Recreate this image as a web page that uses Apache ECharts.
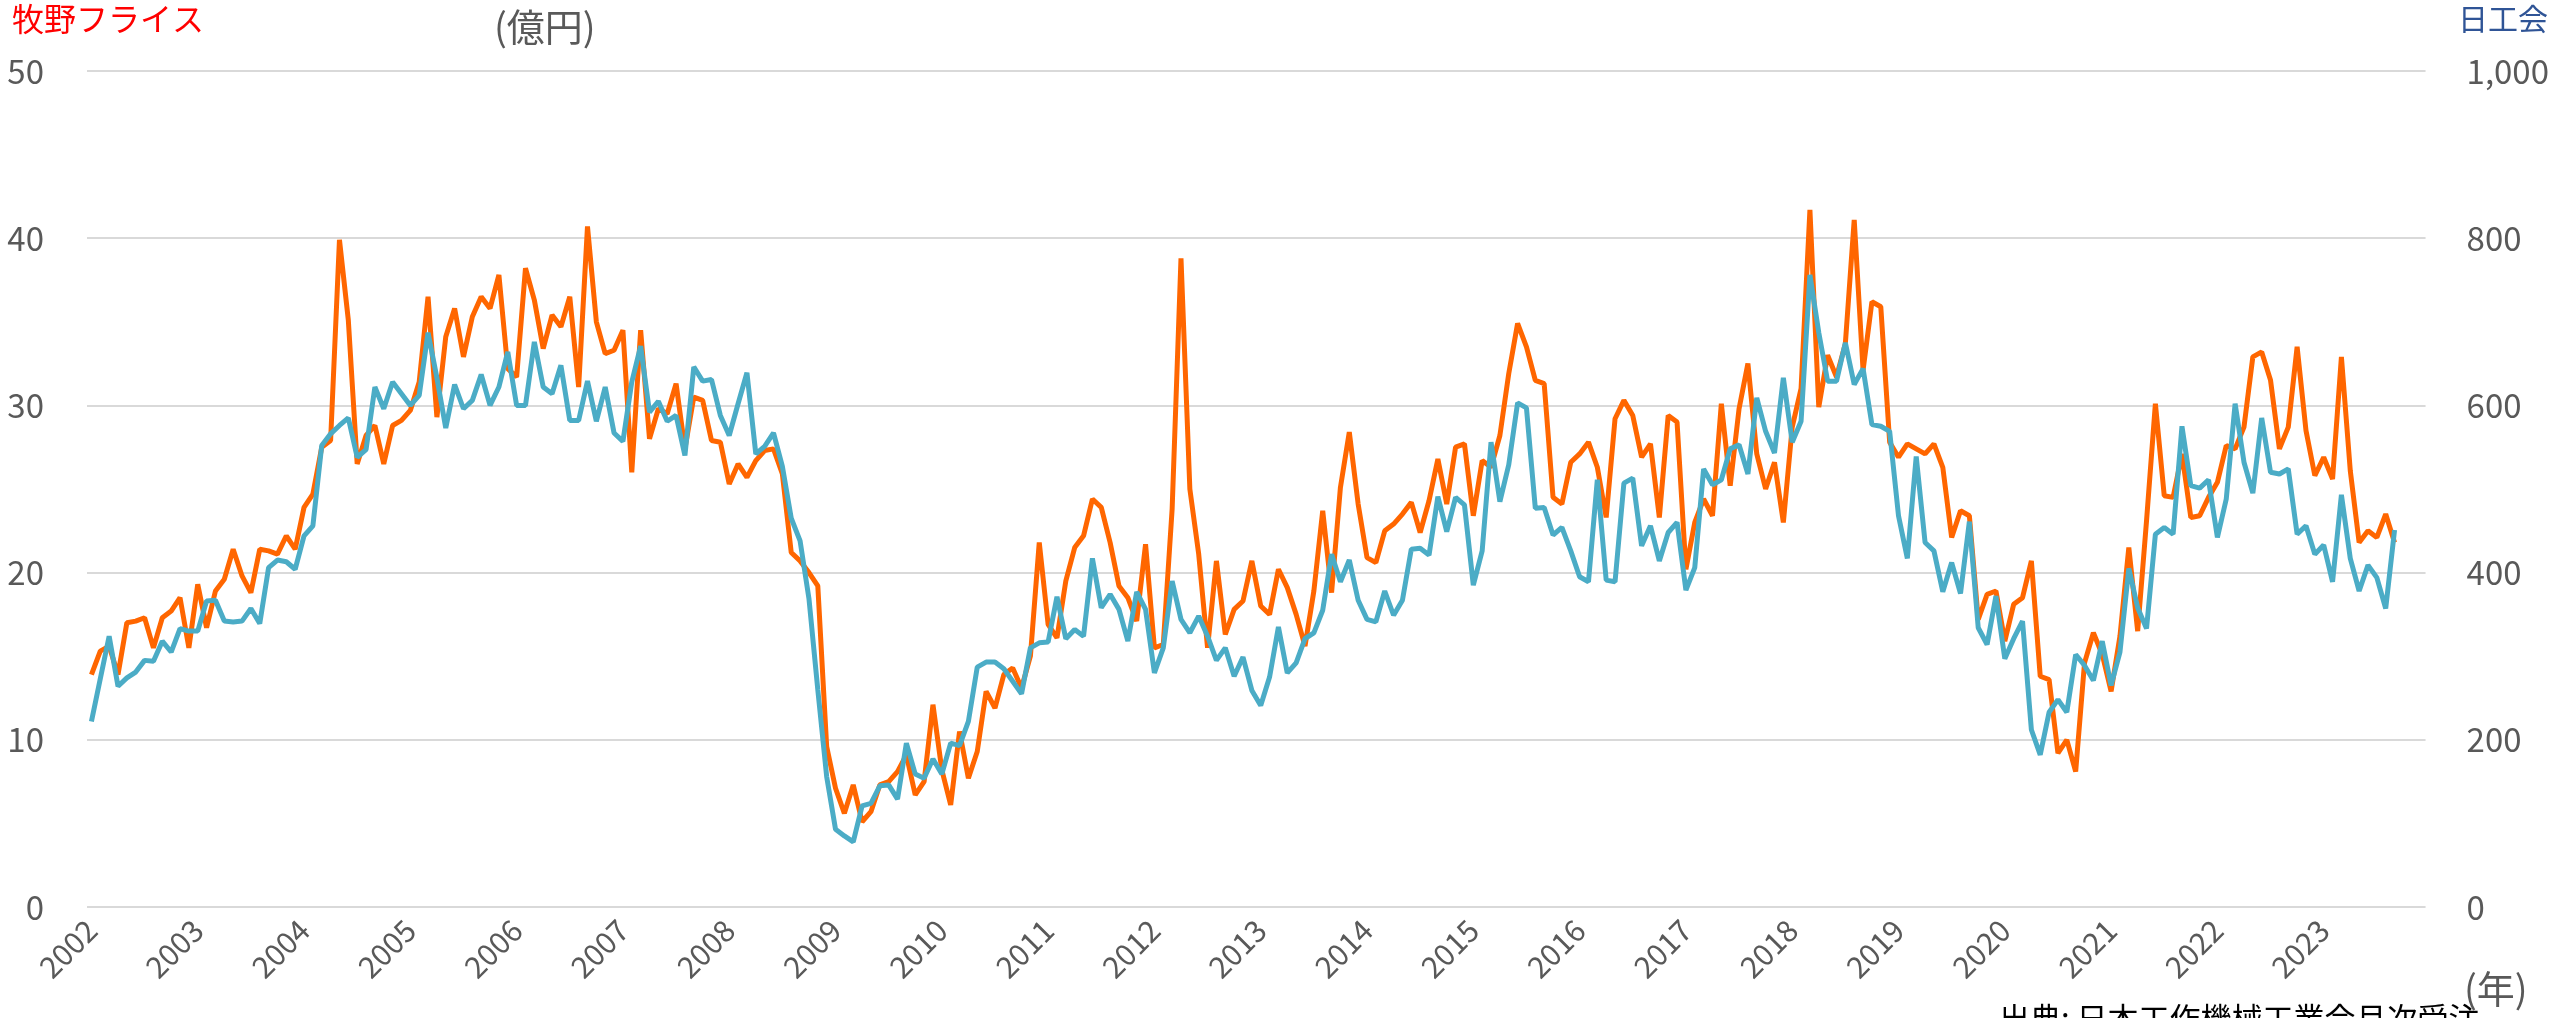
<!DOCTYPE html>
<html>
<head>
<meta charset="utf-8">
<title>牧野フライス / 日工会 受注</title>
<script src="https://cdn.jsdelivr.net/npm/echarts@6/dist/echarts.min.js"></script>
<style>
  html, body { margin: 0; padding: 0; background: #fff; }
  #chart { width: 2552px; height: 1018px; }
</style>
</head>
<body>
<div id="chart"></div>
<script>
// 年（x軸ラベル）
var years = [2002, 2003, 2004, 2005, 2006, 2007, 2008, 2009, 2010, 2011, 2012,
  2013, 2014, 2015, 2016, 2017, 2018, 2019, 2020, 2021, 2022, 2023];

// 牧野フライス 月次受注（億円）2002/1 - 2023/9
var makino = [
  13.9, 15.3, 15.6, 13.9, 17.0, 17.1, 17.3, 15.5, 17.3, 17.7, 18.5, 15.5,
  19.3, 16.7, 18.9, 19.6, 21.4, 19.8, 18.8, 21.4, 21.3, 21.1, 22.2, 21.4,
  23.9, 24.7, 27.5, 27.9, 39.9, 35.1, 26.5, 28.2, 28.8, 26.5, 28.8, 29.1,
  29.7, 31.4, 36.5, 29.3, 34.1, 35.8, 32.9, 35.3, 36.5, 35.8, 37.8, 32.2,
  31.7, 38.2, 36.3, 33.4, 35.4, 34.7, 36.5, 31.1, 40.7, 35.0, 33.1, 33.3,
  34.5, 26.0, 34.5, 28.0, 29.8, 29.5, 31.3, 27.4, 30.5, 30.3, 27.9, 27.8,
  25.3, 26.5, 25.7, 26.7, 27.3, 27.4, 25.9, 21.2, 20.7, 20.0, 19.2, 9.6,
  7.1, 5.6, 7.3, 5.1, 5.7, 7.3, 7.5, 8.1, 9.1, 6.7, 7.5, 12.1,
  8.2, 6.1, 10.5, 7.7, 9.3, 12.9, 11.9, 13.9, 14.3, 13.1, 15.0, 21.8,
  16.9, 16.1, 19.5, 21.5, 22.2, 24.4, 23.9, 21.8, 19.2, 18.5, 17.1, 21.7,
  15.5, 15.7, 23.8, 38.8, 25.0, 21.1, 15.5, 20.7, 16.3, 17.8, 18.3, 20.7,
  18.0, 17.5, 20.2, 19.1, 17.5, 15.6, 18.9, 23.7, 18.8, 25.1, 28.4, 24.1,
  20.9, 20.6, 22.5, 22.9, 23.5, 24.2, 22.4, 24.3, 26.8, 24.1, 27.5, 27.7,
  23.4, 26.7, 26.3, 28.2, 31.9, 34.9, 33.5, 31.5, 31.3, 24.5, 24.1, 26.6,
  27.1, 27.8, 26.3, 23.3, 29.2, 30.3, 29.4, 26.9, 27.7, 23.3, 29.4, 29.0,
  20.2, 23.0, 24.4, 23.4, 30.1, 25.2, 29.8, 32.5, 27.1, 25.0, 26.6, 23.0,
  28.7, 31.0, 41.7, 29.9, 33.0, 31.7, 33.7, 41.1, 32.1, 36.2, 35.9, 27.8,
  26.9, 27.7, 27.4, 27.1, 27.7, 26.3, 22.1, 23.7, 23.4, 17.2, 18.7, 18.9,
  15.9, 18.1, 18.5, 20.7, 13.8, 13.6, 9.2, 10.0, 8.1, 14.6, 16.4, 15.1,
  12.9, 16.2, 21.5, 16.5, 23.1, 30.1, 24.6, 24.5, 27.1, 23.3, 23.4, 24.5,
  25.4, 27.6, 27.4, 28.7, 32.9, 33.2, 31.5, 27.4, 28.7, 33.5, 28.5, 25.8,
  26.9, 25.6, 32.9, 26.1, 21.8, 22.5, 22.1, 23.5, 21.8
];

// 日工会 月次受注（億円）2002/1 - 2023/9
var nikkoukai = [
  222, 273, 324, 264, 274, 281, 295, 294, 318, 305, 333, 330,
  330, 366, 367, 342, 341, 342, 357, 339, 406, 415, 413, 404,
  444, 456, 552, 566, 576, 585, 538, 547, 622, 596, 628, 614,
  600, 612, 687, 633, 573, 625, 596, 606, 637, 600, 622, 664,
  600, 600, 676, 622, 614, 648, 582, 582, 629, 581, 622, 567,
  557, 628, 671, 592, 605, 581, 588, 540, 646, 629, 631, 588,
  564, 602, 639, 542, 551, 567, 527, 465, 438, 369, 260, 156,
  93, 85, 78, 121, 124, 145, 146, 129, 196, 159, 154, 177,
  159, 196, 193, 222, 287, 293, 293, 285, 270, 255, 310, 316,
  317, 371, 321, 332, 324, 417, 358, 374, 356, 318, 377, 356,
  280, 310, 390, 344, 328, 348, 324, 295, 310, 276, 299, 259,
  241, 275, 335, 280, 292, 321, 328, 355, 422, 389, 415, 367,
  344, 341, 378, 349, 367, 428, 429, 421, 491, 449, 490, 481,
  385, 426, 556, 485, 529, 603, 597, 477, 478, 445, 454, 426,
  395, 389, 511, 391, 389, 507, 513, 432, 456, 414, 448, 460,
  379, 406, 524, 505, 511, 548, 553, 518, 609, 569, 543, 633,
  556, 581, 756, 687, 629, 629, 675, 625, 644, 577, 575, 569,
  468, 417, 539, 436, 426, 377, 412, 375, 461, 334, 314, 372,
  297, 321, 342, 212, 182, 233, 248, 233, 302, 289, 271, 318,
  265, 305, 405, 358, 333, 446, 454, 446, 575, 504, 501, 511,
  442, 488, 602, 532, 495, 585, 520, 518, 524, 446, 456, 422,
  433, 389, 493, 417, 378, 409, 394, 357, 451
];

// 月のカテゴリ（2002/1 - 2023/12）
var months = [];
years.forEach(function (y) {
  for (var m = 1; m <= 12; m++) {
    months.push(y + '/' + m);
  }
});

var gray = '#595959';
var jp = '"Noto Sans CJK JP", "Noto Sans", sans-serif';

var chart = echarts.init(document.getElementById('chart'));
var option = {
  animation: false,
  backgroundColor: '#ffffff',
  textStyle: { fontFamily: jp },
  grid: { left: 87, right: 124, top: 71, bottom: 111, containLabel: false },
  xAxis: {
    type: 'category',
    data: months,
    boundaryGap: true,
    axisLine: { show: false },
    axisTick: { show: false },
    axisLabel: {
      interval: 11,
      rotate: 45,
      margin: 18,
      fontSize: 30,
      color: gray,
      fontFamily: jp,
      formatter: function (v) { return v.split('/')[0]; }
    },
    splitLine: { show: false }
  },
  yAxis: [
    {
      type: 'value',
      position: 'left',
      min: 0,
      max: 50,
      interval: 10,
      axisLine: { show: false },
      axisTick: { show: false },
      axisLabel: { fontSize: 33, color: gray, margin: 43, fontFamily: jp },
      splitLine: { lineStyle: { color: '#d9d9d9', width: 2 } }
    },
    {
      type: 'value',
      position: 'right',
      min: 0,
      max: 1000,
      interval: 200,
      axisLine: { show: false },
      axisTick: { show: false },
      axisLabel: {
        fontSize: 33, color: gray, margin: 41, fontFamily: jp,
        formatter: function (v) { return v.toLocaleString('en-US'); }
      },
      splitLine: { show: false }
    }
  ],
  series: [
    {
      name: '牧野フライス',
      type: 'line',
      yAxisIndex: 0,
      data: makino,
      symbol: 'none',
      lineStyle: { color: '#ff6600', width: 5 },
      itemStyle: { color: '#ff6600' }
    },
    {
      name: '日工会',
      type: 'line',
      yAxisIndex: 1,
      data: nikkoukai,
      symbol: 'none',
      lineStyle: { color: '#4bacc6', width: 5 },
      itemStyle: { color: '#4bacc6' }
    }
  ],
  graphic: [
    { type: 'text', left: 12, top: 3,
      style: { text: '牧野フライス', fill: '#ff0000', font: '32px ' + jp } },
    { type: 'text', left: 494, top: 8,
      style: { text: '(億円)', fill: gray, font: '38px ' + jp } },
    { type: 'text', right: 4, top: 4,
      style: { text: '日工会', fill: '#2f5496', font: '30px ' + jp } },
    { type: 'text', left: 2464, top: 970,
      style: { text: '(年)', fill: gray, font: '38px ' + jp } },
    { type: 'text', left: 1999, top: 1003,
      style: { text: '出典: 日本工作機械工業会月次受注', fill: '#000000', font: '31px ' + jp } }
  ]
};
chart.setOption(option);
</script>
</body>
</html>
